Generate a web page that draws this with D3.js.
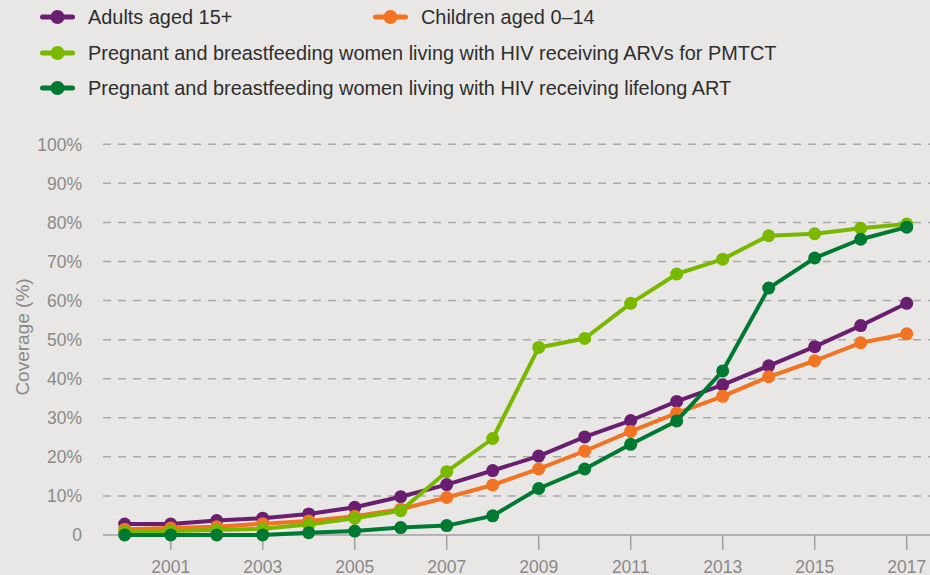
<!DOCTYPE html>
<html>
<head>
<meta charset="utf-8">
<script src="https://cdn.jsdelivr.net/npm/d3@7"></script>
<style>
  body { margin: 0; background: #e8e7e5; }
  svg { display: block; }
</style>
</head>
<body>
<svg width="930" height="575"></svg>
<script>
const YEARS = [2000, 2001, 2002, 2003, 2004, 2005, 2006, 2007, 2008, 2009, 2010, 2011, 2012, 2013, 2014, 2015, 2016, 2017];
const ADULTS = [2.8, 2.8, 3.7, 4.3, 5.4, 7.1, 9.8, 12.9, 16.5, 20.2, 25.1, 29.3, 34.2, 38.4, 43.3, 48.2, 53.6, 59.3];
const CHILDREN = [1.5, 1.8, 2.1, 2.9, 3.6, 4.8, 6.6, 9.6, 12.8, 16.9, 21.5, 26.5, 31.2, 35.5, 40.5, 44.6, 49.2, 51.5];
const PMTCT = [0.9, 1.0, 1.3, 1.6, 2.7, 4.3, 6.2, 16.2, 24.7, 48.0, 50.3, 59.3, 66.8, 70.6, 76.6, 77.1, 78.5, 79.6];
const LIFELONG = [0, 0, 0, 0, 0.6, 1.0, 1.9, 2.4, 4.9, 11.9, 16.9, 23.2, 29.2, 42.0, 63.2, 70.9, 75.7, 78.8];
const Y_TICKS = [0, 10, 20, 30, 40, 50, 60, 70, 80, 90, 100];
const X_TICKS = [2001, 2003, 2005, 2007, 2009, 2011, 2013, 2015, 2017];

const SERIES = [
  { name: 'Adults aged 15+', values: ADULTS, color: '#6a1e6f' },
  { name: 'Children aged 0–14', values: CHILDREN, color: '#f27321' },
  { name: 'Pregnant and breastfeeding women living with HIV receiving ARVs for PMTCT', values: PMTCT, color: '#7ab800' },
  { name: 'Pregnant and breastfeeding women living with HIV receiving lifelong ART', values: LIFELONG, color: '#007a33' }
];

const svg = d3.select('svg');
const x = d3.scaleLinear().domain([2000, 2017]).range([124.7, 906.7]);
const y = d3.scaleLinear().domain([0, 100]).range([535, 144.3]);

// dashed grid
svg.append('g')
  .selectAll('line')
  .data(Y_TICKS.filter(d => d > 0))
  .enter().append('line')
  .attr('x1', 103).attr('x2', 930)
  .attr('y1', d => y(d)).attr('y2', d => y(d))
  .attr('stroke', '#a9a9a9').attr('stroke-width', 1.5)
  .attr('stroke-dasharray', '8,7');

// y tick labels
svg.append('g')
  .selectAll('text')
  .data(Y_TICKS)
  .enter().append('text')
  .attr('x', 82).attr('y', d => y(d))
  .attr('dy', '0.36em')
  .attr('text-anchor', 'end')
  .attr('font-family', 'Liberation Sans, Arial, sans-serif')
  .attr('font-size', 17.5)
  .attr('fill', '#8a8a8a')
  .text(d => d === 0 ? '0' : d + '%');

// x axis
const xAxis = svg.append('g').attr('transform', 'translate(0,535)');
xAxis.append('line').attr('x1', 103).attr('x2', 930)
  .attr('stroke', '#a0a0a0').attr('stroke-width', 1.5);
xAxis.selectAll('.tick')
  .data(X_TICKS)
  .enter().append('line')
  .attr('x1', d => x(d)).attr('x2', d => x(d))
  .attr('y1', 0).attr('y2', 15)
  .attr('stroke', '#a0a0a0').attr('stroke-width', 1.5);
xAxis.selectAll('text')
  .data(X_TICKS)
  .enter().append('text')
  .attr('x', d => x(d)).attr('y', 37.5)
  .attr('text-anchor', 'middle')
  .attr('font-family', 'Liberation Sans, Arial, sans-serif')
  .attr('font-size', 17.5)
  .attr('fill', '#8a8a8a')
  .text(d => d);

// y title
svg.append('text')
  .attr('transform', 'translate(29,337) rotate(-90)')
  .attr('text-anchor', 'middle')
  .attr('font-family', 'Liberation Sans, Arial, sans-serif')
  .attr('font-size', 19)
  .attr('fill', '#8a8a8a')
  .text('Coverage (%)');

// lines + markers
const line = d3.line().x((d, i) => x(YEARS[i])).y(d => y(d));
SERIES.forEach(s => {
  const g = svg.append('g');
  g.append('path')
    .datum(s.values)
    .attr('d', line)
    .attr('fill', 'none')
    .attr('stroke', s.color)
    .attr('stroke-width', 4)
    .attr('stroke-linejoin', 'round');
  g.selectAll('circle')
    .data(s.values)
    .enter().append('circle')
    .attr('cx', (d, i) => x(YEARS[i]))
    .attr('cy', d => y(d))
    .attr('r', 6.5)
    .attr('fill', s.color);
});

// legend
const legendPos = [[57.5, 17], [390.5, 17], [57.5, 53], [57.5, 88]];
const legend = svg.append('g')
  .selectAll('g')
  .data(SERIES)
  .enter().append('g')
  .attr('transform', (d, i) => `translate(${legendPos[i][0]},${legendPos[i][1]})`);
legend.append('line')
  .attr('x1', -15).attr('x2', 15)
  .attr('stroke', d => d.color).attr('stroke-width', 5)
  .attr('stroke-linecap', 'round');
legend.append('circle').attr('r', 7).attr('fill', d => d.color);
legend.append('text')
  .attr('x', 30.5).attr('dy', '0.36em')
  .attr('font-family', 'Liberation Sans, Arial, sans-serif')
  .attr('font-size', 19.9)
  .attr('fill', '#2e2e2e')
  .text(d => d.name);
</script>
</body>
</html>
